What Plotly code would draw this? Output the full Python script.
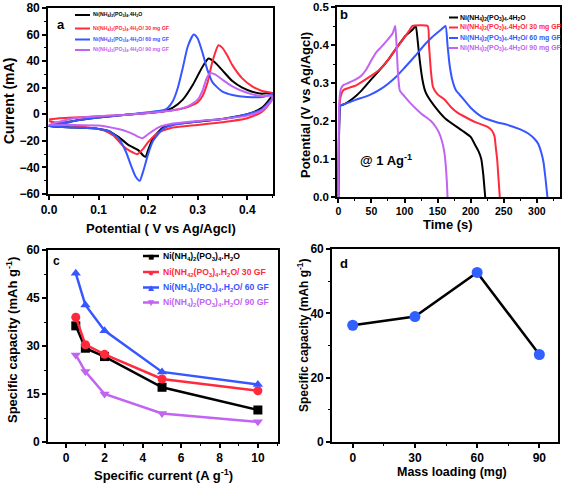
import plotly.graph_objects as go

W, H = 565, 484

# ---------------- data ----------------
# (a) cyclic voltammetry: anodic (up) and cathodic (down) branches
cv_black_up_v = [0, 0.05, 0.1, 0.15, 0.2, 0.23, 0.25, 0.27, 0.29, 0.31, 0.322, 0.335, 0.35, 0.37, 0.39, 0.41, 0.43, 0.45]
cv_black_up_i = [-9, -5, -2.5, -0.5, 1, 2, 5, 11, 22, 36, 42, 39, 33, 25, 20, 17, 15.5, 16]
cv_black_dn_v = [0.45, 0.43, 0.4, 0.35, 0.3, 0.25, 0.23, 0.21, 0.2, 0.195, 0.19, 0.18, 0.17, 0.16, 0.14, 0.12, 0.1, 0.05, 0]
cv_black_dn_i = [14, 5, 0, -3.5, -5.5, -7.5, -10, -18, -27, -32, -31, -27, -25, -23, -17, -12.5, -11, -10, -9]

cv_red_up_v = [0, 0.02, 0.05, 0.1, 0.15, 0.2, 0.25, 0.28, 0.3, 0.31, 0.32, 0.33, 0.342, 0.35, 0.36, 0.37, 0.39, 0.41, 0.43, 0.45]
cv_red_up_i = [-4, -3, -2.5, -1.5, -0.5, 1, 3, 5.5, 9, 14, 24, 40, 52, 50, 44, 37, 27, 21, 17.5, 16]
cv_red_dn_v = [0.45, 0.43, 0.4, 0.35, 0.3, 0.25, 0.22, 0.2, 0.19, 0.178, 0.165, 0.15, 0.13, 0.11, 0.08, 0.05, 0.03, 0.01, 0]
cv_red_dn_i = [11, 2, -3, -6, -8, -10, -14, -21, -26, -30, -28, -24, -16, -12, -10, -8.5, -7, -6, -5]

cv_blue_up_v = [0, 0.05, 0.1, 0.15, 0.2, 0.23, 0.24, 0.25, 0.26, 0.27, 0.28, 0.292, 0.30, 0.31, 0.32, 0.33, 0.35, 0.37, 0.4, 0.43, 0.45]
cv_blue_up_i = [-9, -5, -2.5, -0.5, 1.5, 3, 5, 10, 20, 35, 51, 60, 57, 46, 33, 24, 17, 14.5, 13, 13, 15]
cv_blue_dn_v = [0.45, 0.43, 0.4, 0.35, 0.3, 0.25, 0.23, 0.21, 0.2, 0.19, 0.183, 0.175, 0.165, 0.155, 0.14, 0.12, 0.1, 0.05, 0]
cv_blue_dn_i = [12, 4, 0, -3.5, -5.5, -8, -11, -20, -30, -43, -50, -47, -38, -28, -18, -12.5, -11, -10, -9]

cv_purple_up_v = [0, 0.05, 0.1, 0.15, 0.2, 0.25, 0.28, 0.3, 0.31, 0.318, 0.325, 0.335, 0.35, 0.37, 0.39, 0.41, 0.43, 0.45]
cv_purple_up_i = [-8, -3, -1.5, -0.5, 1, 3, 6, 11, 18, 27, 31, 30, 26, 21, 17.5, 15, 13.5, 14]
cv_purple_dn_v = [0.45, 0.43, 0.4, 0.35, 0.3, 0.25, 0.22, 0.2, 0.189, 0.18, 0.17, 0.15, 0.12, 0.1, 0.05, 0]
cv_purple_dn_i = [11, 3, -1, -3.5, -5, -7, -10, -15, -18, -17, -15, -12, -9.5, -8.5, -8, -8]

# (b) galvanostatic charge / discharge at 1 A/g
gcd_black_t = [0, 1.5, 3, 10, 22, 35, 50, 62, 75, 87, 102, 112, 117,
               120, 123, 127, 131, 135, 145, 162, 187, 200, 207, 212, 216, 219, 221, 222]
gcd_black_v = [0, 0.20, 0.24, 0.245, 0.259, 0.28, 0.31, 0.333, 0.36, 0.39, 0.425, 0.44, 0.45,
               0.41, 0.36, 0.31, 0.28, 0.265, 0.24, 0.206, 0.175, 0.158, 0.136, 0.12, 0.10, 0.06, 0.02, 0]
gcd_red_t = [0, 1.5, 3, 7.5, 27, 47, 62, 75, 87, 100, 108, 112, 135,
             137, 140, 143, 150, 160, 170, 180, 207, 225, 232, 236, 238, 240, 242, 244]
gcd_red_v = [0, 0.22, 0.26, 0.281, 0.294, 0.316, 0.335, 0.36, 0.39, 0.42, 0.44, 0.45, 0.45,
             0.40, 0.33, 0.29, 0.27, 0.257, 0.237, 0.222, 0.197, 0.185, 0.175, 0.16, 0.13, 0.10, 0.05, 0]
gcd_blue_t = [0, 1.5, 3, 10, 25, 47, 65, 87, 100, 117, 130, 142, 155, 162,
              165, 168, 172, 178, 187, 200, 217, 237, 257, 275, 287, 297, 302, 307, 310, 313, 316]
gcd_blue_v = [0, 0.2, 0.24, 0.245, 0.255, 0.268, 0.285, 0.316, 0.34, 0.373, 0.40, 0.421, 0.44, 0.45,
              0.40, 0.35, 0.31, 0.28, 0.262, 0.235, 0.211, 0.198, 0.189, 0.178, 0.167, 0.152, 0.14, 0.115, 0.092, 0.05, 0]
gcd_purple_t = [0, 1.5, 4, 8, 15, 27, 35, 42, 50, 57, 65, 75, 82, 86,
                88, 90, 93, 100, 110, 125, 140, 147, 152, 157, 160, 162, 164, 165]
gcd_purple_v = [0, 0.25, 0.285, 0.295, 0.30, 0.31, 0.32, 0.335, 0.36, 0.38, 0.395, 0.415, 0.43, 0.45,
                0.40, 0.33, 0.28, 0.265, 0.245, 0.22, 0.20, 0.185, 0.17, 0.145, 0.12, 0.09, 0.04, 0]

# (c) rate capability
current_density = [0.5, 1, 2, 5, 10]
cap_pristine = [36.3, 29.3, 26.7, 17.1, 10.0]
cap_30 = [39.0, 30.4, 27.4, 19.7, 16.0]
cap_60 = [52.7, 42.8, 34.8, 21.9, 18.0]
cap_90 = [27.2, 22.0, 15.0, 8.9, 6.3]

# (d) capacity vs mass loading
mass_loading = [0, 30, 60, 90]
cap_vs_loading = [36.3, 39.0, 52.7, 27.2]

# legend labels
F = "Ni(NH<sub>4</sub>)<sub>2</sub>(PO<sub>3</sub>)<sub>4</sub>"
labels_a = [F + ".4H<sub>2</sub>O", F + ".4H<sub>2</sub>O/ 30 mg GF",
            F + ".4H<sub>2</sub>O/ 60 mg GF", F + ".4H<sub>2</sub>O/ 90 mg GF"]
labels_b = labels_a
labels_c = [F + ".H<sub>2</sub>O",
            "Ni(NH<sub>42</sub>(PO<sub>3</sub>)<sub>4</sub>.H<sub>2</sub>O/ 30 GF",
            F + ".H<sub>2</sub>O/ 60 GF", F + ".H<sub>2</sub>O/ 90 GF"]

# ---------------- styles ----------------
BLACK, RED, BLUE, PURPLE = "#000000", "#ff2a3c", "#3656ff", "#c263f2"
COLS = [BLACK, RED, BLUE, PURPLE]
FONT = "Liberation Sans, Arial, sans-serif"


def px(x):
    return x / W


def py(y):
    return 1 - y / H


fig = go.Figure()

cv_sets = [(cv_black_up_v, cv_black_up_i, cv_black_dn_v, cv_black_dn_i),
           (cv_red_up_v, cv_red_up_i, cv_red_dn_v, cv_red_dn_i),
           (cv_blue_up_v, cv_blue_up_i, cv_blue_dn_v, cv_blue_dn_i),
           (cv_purple_up_v, cv_purple_up_i, cv_purple_dn_v, cv_purple_dn_i)]
for (uv, ui, dv, di), c in zip(cv_sets, COLS):
    fig.add_trace(go.Scatter(x=uv + dv, y=ui + di, mode="lines", xaxis="x", yaxis="y",
                             line=dict(color=c, width=2, shape="spline", smoothing=0.6),
                             showlegend=False))

gcd_sets = [(gcd_black_t, gcd_black_v), (gcd_red_t, gcd_red_v),
            (gcd_blue_t, gcd_blue_v), (gcd_purple_t, gcd_purple_v)]
for (t, v), c in zip(gcd_sets, COLS):
    fig.add_trace(go.Scatter(x=t, y=v, mode="lines", xaxis="x2", yaxis="y2",
                             line=dict(color=c, width=2, shape="spline", smoothing=0.5),
                             showlegend=False))

symbols = ["square", "circle", "triangle-up", "triangle-down"]
for ys, c, s in zip([cap_pristine, cap_30, cap_60, cap_90], COLS, symbols):
    fig.add_trace(go.Scatter(x=current_density, y=ys, mode="lines+markers", xaxis="x3", yaxis="y3",
                             line=dict(color=c, width=2.5),
                             marker=dict(symbol=s, size=9, color=c),
                             showlegend=False))

fig.add_trace(go.Scatter(x=mass_loading, y=cap_vs_loading, mode="lines+markers", xaxis="x4", yaxis="y4",
                         line=dict(color=BLACK, width=2.5),
                         marker=dict(symbol="circle", size=11, color="#3060ff"),
                         showlegend=False))


def axis(domain, rng, dtick, mdtick, anchor, fmt=None, tsize=12):
    d = dict(domain=domain, range=rng, dtick=dtick, tick0=0, anchor=anchor,
             showline=True, mirror=True, linecolor="black", linewidth=1.6,
             ticks="outside", ticklen=4, tickwidth=1.5, tickcolor="black",
             showgrid=False, zeroline=False, automargin=False,
             tickfont=dict(family=FONT, size=tsize, color="black", weight="bold"),
             minor=dict(dtick=mdtick, ticks="outside", ticklen=2.5, tickcolor="black", tickwidth=1.2, showgrid=False))
    if fmt:
        d["tickformat"] = fmt
    return d


fig.update_layout(
    width=W, height=H, margin=dict(l=0, r=0, t=0, b=0, autoexpand=False),
    paper_bgcolor="white", plot_bgcolor="white",
    xaxis=axis([px(48), px(273)], [-0.002, 0.452], 0.1, 0.05, "y", ".1f"),
    yaxis=axis([py(194), py(8)], [-60, 80], 20, 10, "x"),
    xaxis2=axis([px(337), px(560)], [-2, 335], 50, 25, "y2", tsize=10.5),
    yaxis2=axis([py(197), py(7)], [0, 0.5], 0.1, 0.05, "x2", ".1f", tsize=11.5),
    xaxis3=axis([px(48), px(278)], [-0.95, 11.05], 2, 1, "y3"),
    yaxis3=axis([py(442), py(250)], [0, 60], 15, 7.5, "x3"),
    xaxis4=axis([px(332), px(558)], [-10, 99], 30, 15, "y4"),
    yaxis4=axis([py(442), py(249)], [0, 60], 20, 10, "x4"),
)

ann = []


def text(x, y, s, size, color="black", angle=0, xanchor="center"):
    ann.append(dict(x=px(x), y=py(y), xref="paper", yref="paper", text=s, showarrow=False,
                    textangle=angle, xanchor=xanchor, yanchor="middle",
                    font=dict(family=FONT, size=size, color=color, weight="bold")))


# axis titles
text(161, 228, "Potential ( V vs Ag/Agcl)", 13)
text(9, 101, "Current (mA)", 14, angle=-90)
text(448, 225, "Time (s)", 13)
text(305, 105, "Potential (V vs Ag/Agcl)", 13, angle=-90)
text(163, 475, "Specific current (A g<sup>-1</sup>)", 13)
text(12, 340, "Specific capacity (mAh g<sup>-1</sup>)", 13, angle=-90)
text(452, 472, "Mass loading (mg)", 12.5)
text(303, 335, "Specific capacity (mAh g<sup>-1</sup>)", 12, angle=-90)

# panel letters
text(61, 25, "a", 13)
text(344, 15, "b", 13)
text(56, 261, "c", 12)
text(344, 263, "d", 13)

# "@ 1 Ag-1"
text(386, 160, "@ 1 Ag<sup>-1</sup>", 13)

shapes = []


def legline(x0, x1, y, color, w=2):
    shapes.append(dict(type="line", xref="paper", yref="paper", x0=px(x0), x1=px(x1),
                       y0=py(y), y1=py(y), line=dict(color=color, width=w)))


# legend a
for k, (lab, c) in enumerate(zip(labels_a, COLS)):
    y = [15, 28.5, 39.5, 50][k]
    legline(75, 90, y, c)
    text(91, y, lab, 5.2, color=c, xanchor="left")

# legend b
for k, (lab, c) in enumerate(zip(labels_b, COLS)):
    y = [17.5, 27.5, 38, 48][k]
    legline(449, 458, y, c)
    text(458, y, lab, 6.9, color=c, xanchor="left")

# legend c
glyph = ["\u25A0", "\u25CF", "\u25B2", "\u25BC"]
for k, (lab, c) in enumerate(zip(labels_c, COLS)):
    y = [256, 272, 287.5, 302.5][k]
    legline(143, 159, y, c, 2.5)
    text(151, y, glyph[k], 10, color=c)
    text(161, y, lab, 8.6, color=c, xanchor="left")

fig.update_layout(annotations=ann, shapes=shapes)
fig.write_html("out.html", config={"displayModeBar": False},
               post_script="document.body.style.margin='0';document.body.style.padding='0';"
                           "document.body.style.overflow='hidden';")
